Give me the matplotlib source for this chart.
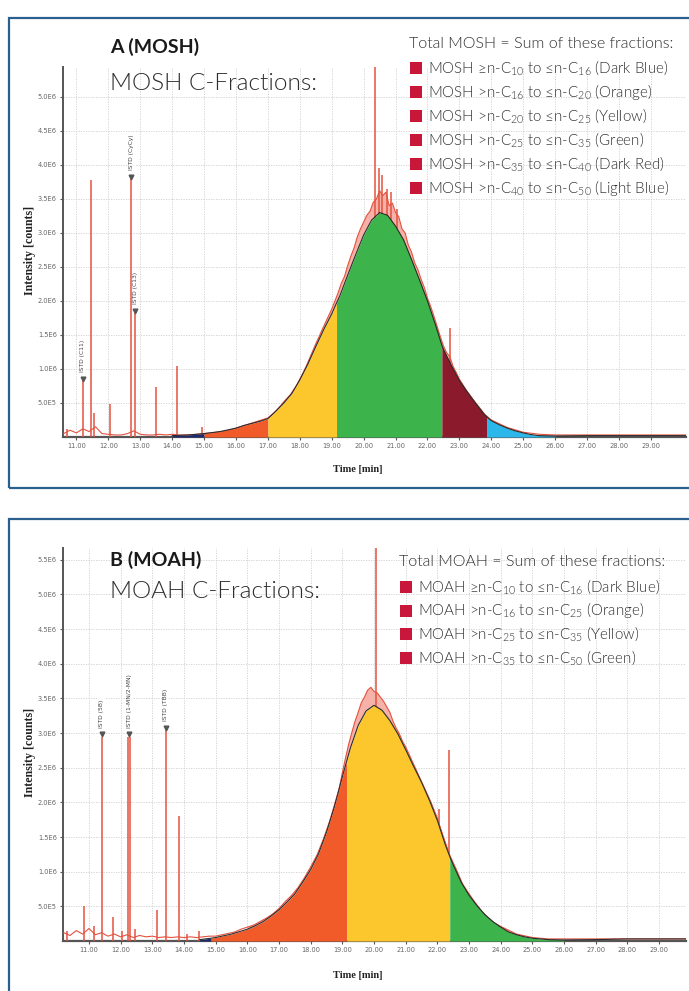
import numpy as np
import matplotlib
matplotlib.use("Agg")
import matplotlib.pyplot as plt
from matplotlib.patches import Rectangle

plt.rcParams['font.family'] = ['Lato', 'DejaVu Sans']

W, H = 689, 991

# ---------------- shared axis data ----------------
x_ticks = [11, 12, 13, 14, 15, 16, 17, 18, 19, 20, 21, 22, 23, 24, 25, 26, 27, 28, 29]
x_tick_labels = ["11.00", "12.00", "13.00", "14.00", "15.00", "16.00", "17.00", "18.00", "19.00",
                 "20.00", "21.00", "22.00", "23.00", "24.00", "25.00", "26.00", "27.00", "28.00", "29.00"]
y_ticks_top = [0.5, 1.0, 1.5, 2.0, 2.5, 3.0, 3.5, 4.0, 4.5, 5.0]
y_tick_labels_top = ["5.0E5", "1.0E6", "1.5E6", "2.0E6", "2.5E6", "3.0E6", "3.5E6", "4.0E6", "4.5E6", "5.0E6"]
y_ticks_bot = [0.5, 1.0, 1.5, 2.0, 2.5, 3.0, 3.5, 4.0, 4.5, 5.0, 5.5]
y_tick_labels_bot = ["5.0E5", "1.0E6", "1.5E6", "2.0E6", "2.5E6", "3.0E6", "3.5E6", "4.0E6", "4.5E6", "5.0E6", "5.5E6"]

# ---------------- MOSH (panel A) ----------------
mosh_env_t = np.array([14.0, 14.5, 15.0, 15.5, 16.0, 16.25, 16.5, 16.75, 17.0, 17.25, 17.5, 17.75,
                       18.0, 18.25, 18.5, 18.75, 19.0, 19.15, 19.25, 19.5, 19.75, 20.0, 20.25, 20.5,
                       20.75, 21.0, 21.25, 21.5, 21.75, 22.0, 22.25, 22.45, 22.5, 22.75, 23.0, 23.25,
                       23.5, 23.75, 23.85, 24.0, 24.25, 24.5, 24.75, 25.0, 25.25, 25.5, 26.0, 27.0,
                       28.0, 29.0, 30.2])
mosh_env_v = np.array([0.02, 0.03, 0.05, 0.08, 0.13, 0.17, 0.20, 0.23, 0.27, 0.38, 0.50, 0.64,
                       0.84, 1.07, 1.33, 1.58, 1.81, 1.97, 2.07, 2.38, 2.68, 2.97, 3.19, 3.30,
                       3.26, 3.10, 2.90, 2.61, 2.31, 2.00, 1.65, 1.35, 1.29, 1.05, 0.83, 0.66,
                       0.50, 0.35, 0.30, 0.24, 0.18, 0.13, 0.09, 0.06, 0.035, 0.02, 0.015, 0.02,
                       0.02, 0.02, 0.02])
mosh_raw_t = np.array([10.6, 10.8, 11.0, 11.2, 11.4, 11.6, 11.8, 12.0, 12.2, 12.4, 12.6, 12.8, 13.0,
                       13.2, 13.4, 13.6, 13.8, 14.0, 14.2, 14.4, 14.6, 14.8, 15.0, 15.2, 15.4, 15.6,
                       15.8, 16.0, 16.2, 16.4, 16.6, 16.8, 17.0, 17.1, 17.2, 17.3, 17.4, 17.5, 17.6,
                       17.7, 17.8, 17.9, 18.0, 18.1, 18.2, 18.3, 18.4, 18.5, 18.6, 18.7, 18.8, 18.9,
                       19.0, 19.1, 19.2, 19.3, 19.4, 19.5, 19.6, 19.7, 19.8, 19.9, 20.0, 20.1, 20.2,
                       20.3, 20.4, 20.5, 20.6, 20.7, 20.8, 20.9, 21.0, 21.1, 21.2, 21.3, 21.4, 21.5,
                       21.6, 21.7, 21.8, 21.9, 22.0, 22.1, 22.2, 22.3, 22.4, 22.5, 22.6, 22.7, 22.8,
                       22.9, 23.0, 23.2, 23.4, 23.6, 23.8, 24.0, 24.5, 25.0, 25.5, 26.0, 27.0, 28.0,
                       29.0, 30.2])
mosh_raw_v = np.array([0.05, 0.10, 0.06, 0.12, 0.08, 0.15, 0.05, 0.04, 0.03, 0.03, 0.05, 0.09, 0.04,
                       0.03, 0.03, 0.04, 0.03, 0.04, 0.03, 0.03, 0.03, 0.04, 0.05, 0.06, 0.07, 0.08,
                       0.10, 0.13, 0.16, 0.19, 0.22, 0.25, 0.28, 0.32, 0.36, 0.41, 0.46, 0.52, 0.57,
                       0.62, 0.69, 0.76, 0.85, 0.94, 1.04, 1.15, 1.26, 1.37, 1.47, 1.58, 1.68, 1.78,
                       1.88, 2.00, 2.12, 2.26, 2.36, 2.52, 2.66, 2.78, 2.94, 3.06, 3.16, 3.26, 3.32,
                       3.45, 3.50, 3.62, 3.55, 3.60, 3.40, 3.44, 3.30, 3.24, 3.06, 3.00, 2.82, 2.72,
                       2.56, 2.46, 2.32, 2.20, 2.04, 1.92, 1.78, 1.63, 1.48, 1.34, 1.24, 1.18, 1.04,
                       0.95, 0.85, 0.70, 0.57, 0.45, 0.33, 0.25, 0.14, 0.07, 0.04, 0.03, 0.03, 0.03,
                       0.03, 0.03])
mosh_spike_t = [10.72, 11.20, 11.47, 11.55, 12.05, 12.72, 12.84, 13.50, 14.15, 14.95,
                20.36, 20.47, 20.56, 20.72, 20.86, 21.05, 22.70]
mosh_spike_h = [0.12, 0.82, 3.78, 0.35, 0.48, 3.80, 1.82, 0.73, 1.05, 0.15,
                5.60, 3.95, 3.85, 3.65, 3.60, 3.35, 1.60]
mosh_istd_t = [11.20, 12.72, 12.84]
mosh_istd_h = [0.82, 3.80, 1.82]
mosh_istd_names = ["ISTD (C11)", "ISTD (CyCy)", "ISTD (C13)"]
mosh_bounds = [14.0, 15.0, 17.0, 19.15, 22.45, 23.85, 26.0]
mosh_colors = ["#1e2a6e", "#f15a29", "#fcc62d", "#3cb44b", "#8a1a2c", "#2bb7ea"]
mosh_legend = ["MOSH \u2265n-C$\\mathregular{_{10}}$ to \u2264n-C$\\mathregular{_{16}}$ (Dark Blue)",
               "MOSH >n-C$\\mathregular{_{16}}$ to \u2264n-C$\\mathregular{_{20}}$ (Orange)",
               "MOSH >n-C$\\mathregular{_{20}}$ to \u2264n-C$\\mathregular{_{25}}$ (Yellow)",
               "MOSH >n-C$\\mathregular{_{25}}$ to \u2264n-C$\\mathregular{_{35}}$ (Green)",
               "MOSH >n-C$\\mathregular{_{35}}$ to \u2264n-C$\\mathregular{_{40}}$ (Dark Red)",
               "MOSH >n-C$\\mathregular{_{40}}$ to \u2264n-C$\\mathregular{_{50}}$ (Light Blue)"]

# ---------------- MOAH (panel B) ----------------
moah_env_t = np.array([14.5, 14.85, 15.0, 15.5, 16.0, 16.25, 16.5, 16.75, 17.0, 17.25, 17.5, 17.75,
                       18.0, 18.25, 18.5, 18.75, 19.0, 19.14, 19.25, 19.5, 19.75, 20.0, 20.25, 20.5,
                       20.75, 21.0, 21.25, 21.5, 21.75, 22.0, 22.25, 22.39, 22.5, 22.75, 23.0, 23.25,
                       23.5, 23.75, 24.0, 24.25, 24.5, 24.75, 25.0, 25.5, 26.0, 27.0, 28.0, 29.0, 29.9])
moah_env_v = np.array([0.02, 0.04, 0.05, 0.10, 0.17, 0.22, 0.28, 0.36, 0.45, 0.56, 0.68, 0.85,
                       1.03, 1.26, 1.57, 1.94, 2.37, 2.60, 2.78, 3.11, 3.32, 3.40, 3.33, 3.18,
                       2.99, 2.76, 2.52, 2.29, 2.03, 1.74, 1.39, 1.22, 1.10, 0.85, 0.66, 0.51,
                       0.38, 0.28, 0.20, 0.13, 0.09, 0.06, 0.04, 0.02, 0.015, 0.02, 0.03, 0.03, 0.03])
moah_raw_t = np.array([10.2, 10.4, 10.6, 10.8, 11.0, 11.2, 11.4, 11.6, 11.8, 12.0, 12.2, 12.4, 12.6,
                       12.8, 13.0, 13.2, 13.4, 13.6, 13.8, 14.0, 14.2, 14.4, 14.6, 14.8, 15.0, 15.2,
                       15.4, 15.6, 15.8, 16.0, 16.2, 16.4, 16.6, 16.8, 17.0, 17.2, 17.4, 17.6, 17.8,
                       18.0, 18.2, 18.4, 18.6, 18.8, 18.9, 19.0, 19.1, 19.2, 19.3, 19.4, 19.5, 19.6,
                       19.7, 19.8, 19.9, 20.0, 20.1, 20.2, 20.3, 20.4, 20.5, 20.6, 20.7, 20.8, 20.9,
                       21.0, 21.2, 21.4, 21.6, 21.8, 22.0, 22.2, 22.4, 22.6, 22.8, 23.0, 23.2, 23.4,
                       23.6, 23.8, 24.0, 24.5, 25.0, 25.5, 26.0, 27.0, 28.0, 29.0, 29.9])
moah_raw_v = np.array([0.12, 0.08, 0.15, 0.10, 0.18, 0.09, 0.12, 0.07, 0.10, 0.06, 0.09, 0.05, 0.08,
                       0.06, 0.07, 0.05, 0.06, 0.05, 0.06, 0.05, 0.06, 0.05, 0.06, 0.07, 0.07, 0.09,
                       0.11, 0.13, 0.17, 0.20, 0.23, 0.28, 0.33, 0.39, 0.47, 0.57, 0.66, 0.77, 0.91,
                       1.07, 1.24, 1.47, 1.73, 2.04, 2.20, 2.43, 2.64, 2.84, 3.01, 3.17, 3.30, 3.44,
                       3.52, 3.62, 3.66, 3.60, 3.58, 3.52, 3.46, 3.38, 3.30, 3.17, 3.07, 2.99, 2.88,
                       2.80, 2.60, 2.40, 2.20, 2.00, 1.77, 1.49, 1.23, 1.03, 0.82, 0.68, 0.55, 0.43,
                       0.34, 0.26, 0.21, 0.10, 0.05, 0.03, 0.03, 0.03, 0.03, 0.03, 0.03])
moah_spike_t = [10.30, 10.84, 11.16, 11.40, 11.77, 12.05, 12.24, 12.31, 12.46, 13.16, 13.42,
                13.83, 14.10, 14.46, 20.05, 22.05, 22.36]
moah_spike_h = [0.15, 0.50, 0.22, 2.95, 0.35, 0.14, 2.95, 2.95, 0.18, 0.45, 3.05,
                1.80, 0.10, 0.15, 5.70, 1.90, 2.75]
moah_istd_t = [11.40, 12.27, 13.42]
moah_istd_h = [2.95, 2.95, 3.05]
moah_istd_names = ["ISTD (5B)", "ISTD (1-MN/2-MN)", "ISTD (TBB)"]
moah_bounds = [14.5, 14.85, 19.14, 22.39, 26.0]
moah_colors = ["#1e2a6e", "#f15a29", "#fcc62d", "#3cb44b"]
moah_legend = ["MOAH \u2265n-C$\\mathregular{_{10}}$ to \u2264n-C$\\mathregular{_{16}}$ (Dark Blue)",
               "MOAH >n-C$\\mathregular{_{16}}$ to \u2264n-C$\\mathregular{_{25}}$ (Orange)",
               "MOAH >n-C$\\mathregular{_{25}}$ to \u2264n-C$\\mathregular{_{35}}$ (Yellow)",
               "MOAH >n-C$\\mathregular{_{35}}$ to \u2264n-C$\\mathregular{_{50}}$ (Green)"]

RED = "#e4523f"
PINK = "#f6b2a8"
FRAME = "#2a5f8e"
SQUARE = "#c8173a"
TXT = "#2e2e2e"

fig = plt.figure(figsize=(W / 100, H / 100), dpi=100)


def fx(x):
    return x / W


def fy(y):
    return 1 - y / H


def add_axes_px(left, top, right, bottom):
    return fig.add_axes([fx(left), fy(bottom), (right - left) / W, (bottom - top) / H])


# frames
fig.patches.append(Rectangle((fx(9), fy(488)), 1.2, (488 - 18) / H, transform=fig.transFigure,
                             fill=False, ec=FRAME, lw=1.6, zorder=0))
fig.patches.append(Rectangle((fx(9), fy(1010)), 1.2, (1010 - 519) / H, transform=fig.transFigure,
                             fill=False, ec=FRAME, lw=1.6, zorder=0))


def draw_panel(ax, xlim, ylim, yt, ytl, env_t, env_v, raw_t, raw_v, sp_t, sp_h,
               is_t, is_h, is_names, bounds, colors):
    ax.set_xlim(*xlim)
    ax.set_ylim(*ylim)
    # pink band between raw trace and smooth envelope (hump region)
    mr = (raw_t >= 16.0) & (raw_t <= 25.0)
    me = (env_t >= 16.0) & (env_t <= 25.0)
    ax.fill(np.r_[raw_t[mr], env_t[me][::-1]], np.r_[raw_v[mr], env_v[me][::-1]],
            color=PINK, lw=0, zorder=2)
    ax.plot(raw_t, raw_v, color=RED, lw=0.8, zorder=3)
    ax.vlines(sp_t, 0, sp_h, color=RED, lw=1.1, zorder=3)
    for i, c in enumerate(colors):
        a, b = bounds[i], bounds[i + 1]
        ax.fill_between(env_t, 0, env_v, where=(env_t >= a) & (env_t <= b),
                        color=c, lw=0, zorder=4)
    ax.plot(env_t, env_v, color="#2b2b2b", lw=0.8, zorder=5)
    # internal standard markers
    ax.plot(is_t, [h + 0.03 for h in is_h], linestyle="none", marker="v", ms=3.4,
            color="#555555", zorder=6)
    for t, h, name in zip(is_t, is_h, is_names):
        ax.text(t, h + 0.13, name, rotation=90, fontsize=4.3, ha="center", va="bottom",
                color="#444444", family=["DejaVu Sans"], zorder=6,
                bbox=dict(boxstyle="square,pad=0.15", fc="white", ec="none", alpha=0.8))
    # axes styling
    ax.set_xticks(x_ticks)
    ax.set_xticklabels(x_tick_labels)
    ax.set_yticks(yt)
    ax.set_yticklabels(ytl)
    for s in ["top", "right"]:
        ax.spines[s].set_visible(False)
    ax.spines["left"].set_color("#555555")
    ax.spines["left"].set_linewidth(1.4)
    ax.spines["bottom"].set_color("#555555")
    ax.spines["bottom"].set_linewidth(1.6)
    ax.tick_params(axis="both", labelsize=4.8, colors="#555555", length=2.5, width=0.8,
                   pad=2)
    for lab in ax.get_xticklabels() + ax.get_yticklabels():
        lab.set_family(["DejaVu Sans"])
        lab.set_color("#666666")
    ax.grid(True, color="#cfcfcf", lw=0.6, ls=(0, (1.5, 1.5)), zorder=0)
    ax.set_axisbelow(True)
    ax.patch.set_alpha(0)


ax1 = add_axes_px(63, 67, 686, 437)
draw_panel(ax1, (10.58, 30.1), (0, 5.44), y_ticks_top, y_tick_labels_top,
           mosh_env_t, mosh_env_v, mosh_raw_t, mosh_raw_v, mosh_spike_t, mosh_spike_h,
           mosh_istd_t, mosh_istd_h, mosh_istd_names, mosh_bounds, mosh_colors)

ax2 = add_axes_px(63, 548, 686, 941)
draw_panel(ax2, (10.18, 29.85), (0, 5.67), y_ticks_bot, y_tick_labels_bot,
           moah_env_t, moah_env_v, moah_raw_t, moah_raw_v, moah_spike_t, moah_spike_h,
           moah_istd_t, moah_istd_h, moah_istd_names, moah_bounds, moah_colors)

# axis titles
serif = ["Liberation Serif", "DejaVu Serif"]
for ycen, ytime in [(250, 470), (752, 975)]:
    fig.text(fx(30), fy(ycen), "Intensity [counts]", rotation=90, ha="center", va="center",
             fontsize=8.6, fontweight="bold", family=serif, color="#222222")
    fig.text(fx(358), fy(ytime), "Time [min]", ha="center", va="center",
             fontsize=7.5, fontweight="bold", family=serif, color="#222222")

# panel headings
fig.text(fx(110), fy(47), "A (MOSH)", fontsize=14, fontweight="bold", va="center",
         color="#1a1a1a")
fig.text(fx(110), fy(84), "MOSH C-Fractions:", fontsize=17.6, fontweight=300,
         va="center", color=TXT)
fig.text(fx(110), fy(560), "B (MOAH)", fontsize=14, fontweight="bold", va="center",
         color="#1a1a1a")
fig.text(fx(110), fy(592), "MOAH C-Fractions:", fontsize=17.6, fontweight=300,
         va="center", color=TXT)

# legend-like text blocks
TFS = 11.5
LFS = 10.9
fig.text(fx(409), fy(44), "Total MOSH = Sum of these fractions:", fontsize=TFS,
         fontweight=300, va="center", color=TXT)
for i, lab in enumerate(mosh_legend):
    yc = 68 + i * 24
    fig.patches.append(Rectangle((fx(410), fy(yc + 6)), 12 / W, 12 / H,
                                 transform=fig.transFigure, color=SQUARE, lw=0))
    fig.text(fx(428), fy(yc), lab, fontsize=LFS, fontweight=300, va="center",
             color=TXT)

fig.text(fx(399), fy(562), "Total MOAH = Sum of these fractions:", fontsize=TFS,
         fontweight=300, va="center", color=TXT)
for i, lab in enumerate(moah_legend):
    yc = 587 + i * 23.5
    fig.patches.append(Rectangle((fx(400), fy(yc + 6)), 12 / W, 12 / H,
                                 transform=fig.transFigure, color=SQUARE, lw=0))
    fig.text(fx(418), fy(yc), lab, fontsize=LFS, fontweight=300, va="center",
             color=TXT)

fig.savefig("out.png", dpi=100, facecolor="white")
